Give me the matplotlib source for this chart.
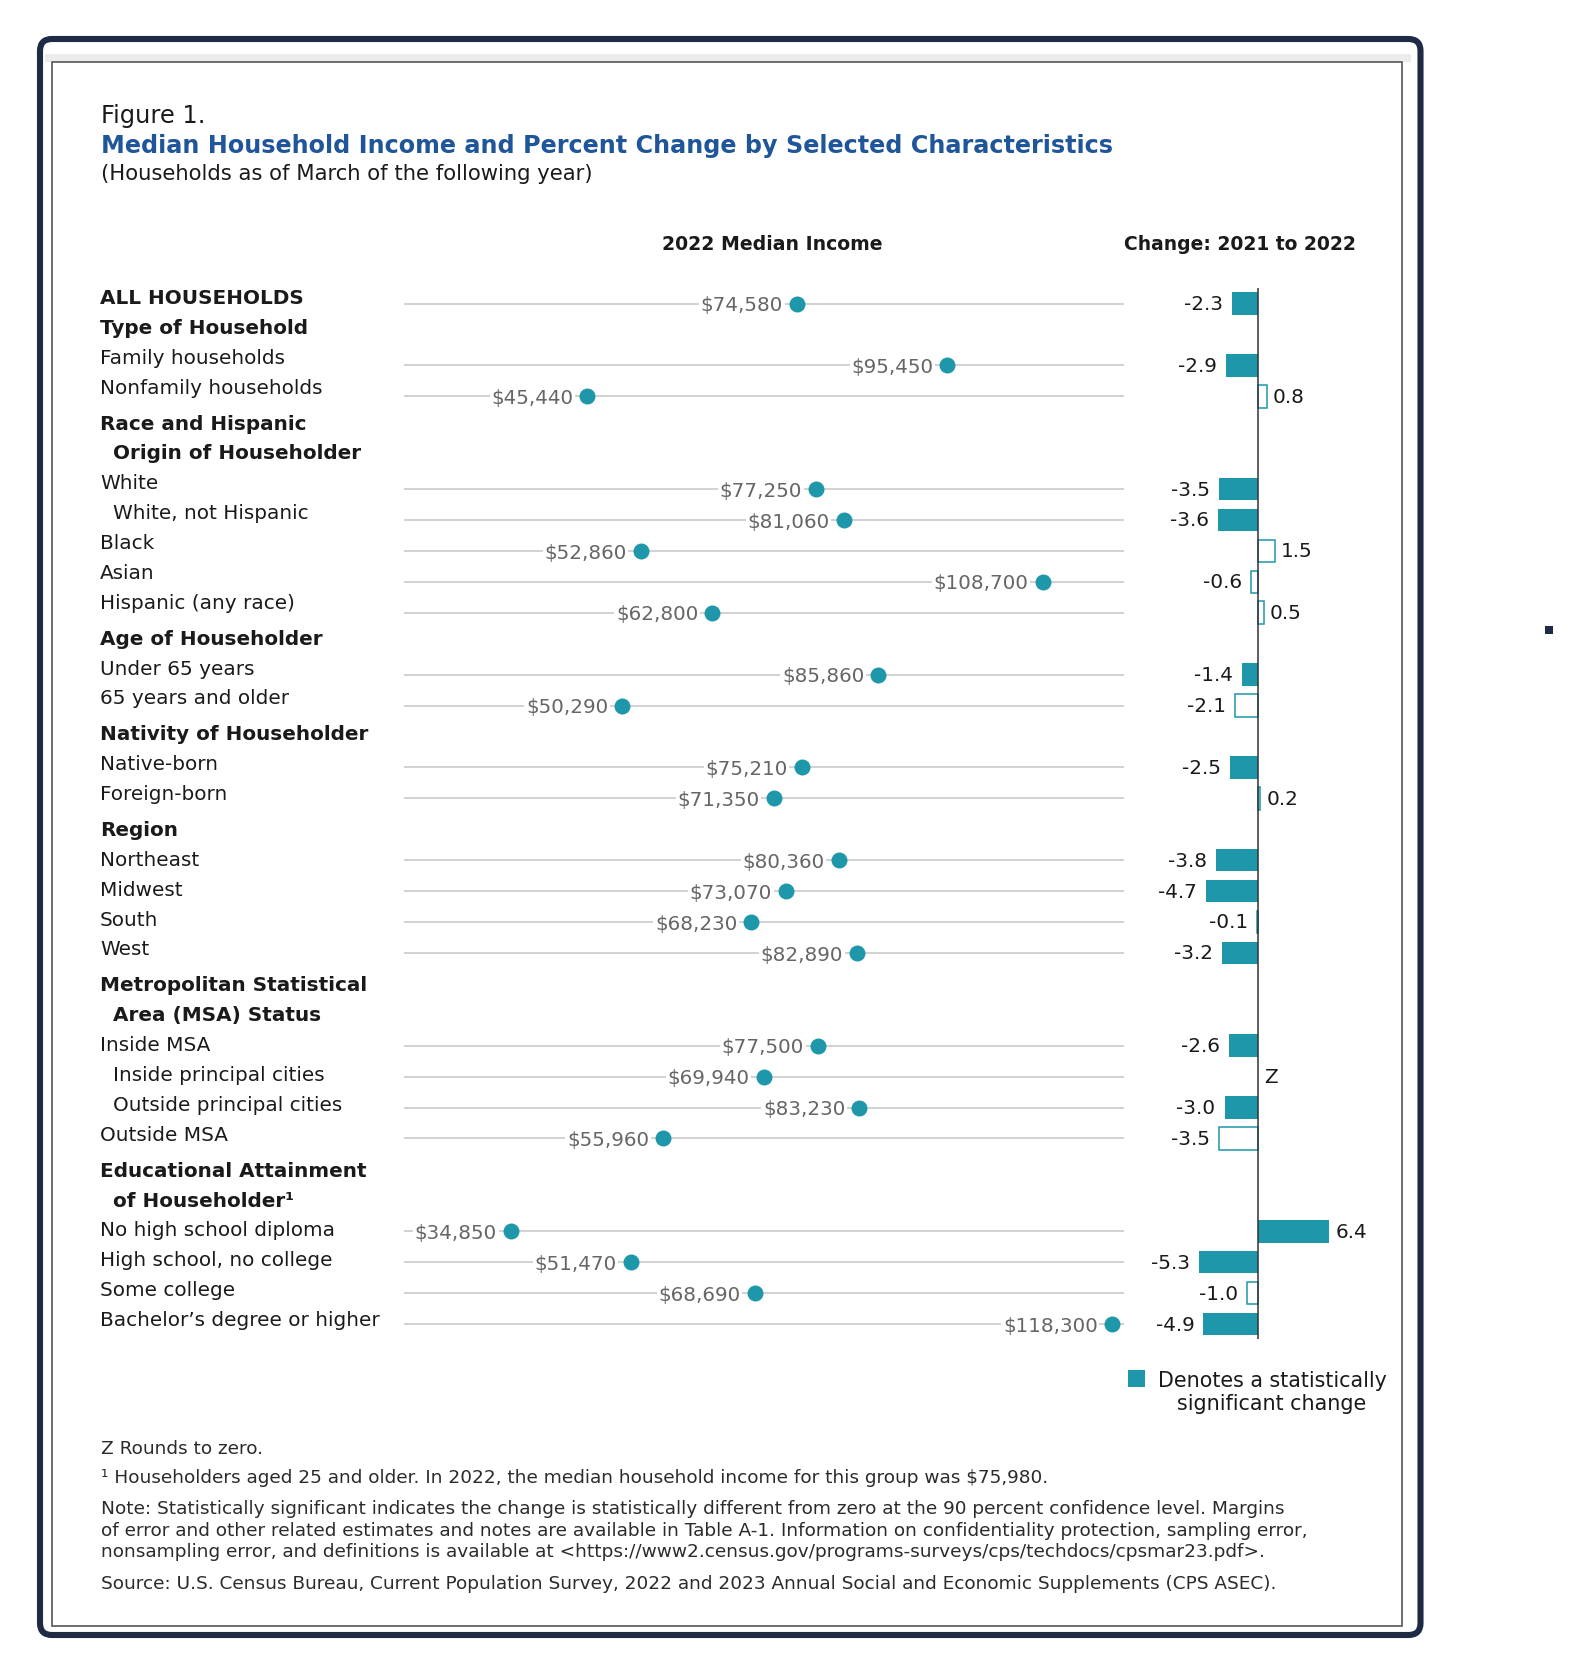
import matplotlib.pyplot as plt
from matplotlib.patches import FancyBboxPatch, Rectangle

# row labels on the left, with their role (total / section head / item)
row_labels = [
    "ALL HOUSEHOLDS", "Type of Household", "Family households", "Nonfamily households",
    "Race and Hispanic", "Origin of Householder", "White", "White, not Hispanic",
    "Black", "Asian", "Hispanic (any race)",
    "Age of Householder", "Under 65 years", "65 years and older",
    "Nativity of Householder", "Native-born", "Foreign-born",
    "Region", "Northeast", "Midwest", "South", "West",
    "Metropolitan Statistical", "Area (MSA) Status", "Inside MSA",
    "Inside principal cities", "Outside principal cities", "Outside MSA",
    "Educational Attainment", "of Householder\u00b9", "No high school diploma",
    "High school, no college", "Some college", "Bachelor\u2019s degree or higher",
]
row_kinds = [
    "total", "head", "item", "item",
    "head", "head2", "item", "sub",
    "item", "item", "item",
    "head", "item", "item",
    "head", "item", "item",
    "head", "item", "item", "item", "item",
    "head", "head2", "item",
    "sub", "sub", "item",
    "head", "head2", "item",
    "item", "item", "item",
]

# one value per data row (total, item, sub), top to bottom
income = [74580, 95450, 45440, 77250, 81060, 52860, 108700, 62800,
          85860, 50290, 75210, 71350, 80360, 73070, 68230, 82890,
          77500, 69940, 83230, 55960, 34850, 51470, 68690, 118300]
change = [-2.3, -2.9, 0.8, -3.5, -3.6, 1.5, -0.6, 0.5,
          -1.4, -2.1, -2.5, 0.2, -3.8, -4.7, -0.1, -3.2,
          -2.6, None, -3.0, -3.5, 6.4, -5.3, -1.0, -4.9]
significant = [1, 1, 0, 1, 1, 0, 0, 0,
               1, 0, 1, 0, 1, 1, 0, 1,
               1, 0, 1, 0, 1, 1, 0, 1]

footnotes = [
    "Z Rounds to zero.",
    "\u00b9 Householders aged 25 and older. In 2022, the median household income for this group was $75,980.",
    "Note: Statistically significant indicates the change is statistically different from zero at the 90 percent confidence level. Margins",
    "of error and other related estimates and notes are available in Table A-1. Information on confidentiality protection, sampling error,",
    "nonsampling error, and definitions is available at <https://www2.census.gov/programs-surveys/cps/techdocs/cpsmar23.pdf>.",
    "Source: U.S. Census Bureau, Current Population Survey, 2022 and 2023 Annual Social and Economic Supplements (CPS ASEC).",
]

TEAL = "#1d97a9"
NAVY = "#1f2b44"
BLUE = "#1f5699"
INK = "#1a1a1a"

W, H = 1590, 1681
fig = plt.figure(figsize=(W / 100, H / 100), dpi=100)
renderer = fig.canvas.get_renderer()

ov = fig.add_axes([0, 0, 1, 1])
ov.set_xlim(0, W)
ov.set_ylim(H, 0)
ov.axis("off")


def px_axes(x0, y0, x1, y1):
    ax = fig.add_axes([x0 / W, 1 - y1 / H, (x1 - x0) / W, (y1 - y0) / H])
    ax.set_facecolor("none")
    return ax


def fit(t, width_px):
    w = t.get_window_extent(renderer=renderer).width
    t.set_fontsize(t.get_fontsize() * width_px / w)
    return t.get_fontsize()


# frame
ov.add_patch(FancyBboxPatch((40, 40), 1380.5, 1596, boxstyle="round,pad=0,rounding_size=12",
                            fc="none", ec=NAVY, lw=4.4))
ov.add_patch(Rectangle((45, 55), 1366, 8, fc="#ececec", ec="none"))
ov.add_patch(Rectangle((52, 63), 1350, 1564, fc="white", ec="#555555", lw=1.2))
ov.add_patch(Rectangle((1545, 627), 8, 8, fc=NAVY, ec="none"))

# titles
fit(ov.text(101, 113, "Figure 1.", fontsize=17, color=INK, va="center_baseline"), 104)
fit(ov.text(101, 144, "Median Household Income and Percent Change by Selected Characteristics",
            fontsize=18, color=BLUE, fontweight="bold", va="center_baseline"), 1014)
fit(ov.text(101, 172, "(Households as of March of the following year)", fontsize=14,
            color=INK, va="center_baseline"), 494)
fit(ov.text(772, 243, "2022 Median Income", fontsize=14, fontweight="bold", color=INK,
            ha="center", va="center_baseline"), 221)
fit(ov.text(1240, 243, "Change: 2021 to 2022", fontsize=14, fontweight="bold", color=INK,
            ha="center", va="center_baseline"), 233)

# left labels
data_slots = []
gap = 0
prev = None
for i, (lab, kind) in enumerate(zip(row_labels, row_kinds)):
    if kind == "head" and prev in ("item", "sub"):
        gap += 6
    if kind in ("total", "item", "sub"):
        data_slots.append(i)
    bold = kind in ("total", "head", "head2")
    x = 113 if kind in ("head2", "sub") else 100
    ov.text(x, 304 + 29.88 * i + gap, lab, fontsize=14.4, color=INK,
            fontweight="bold" if bold else "normal", va="baseline")
    prev = kind

n = len(row_labels)
row_top, row_step = 304.5, 30.925
y0 = row_top - row_step / 2
y1 = row_top + (n - 0.5) * row_step

# median income dots
ax = px_axes(404, y0, 1124, y1)
ax.set_xlim(20000, 120000)
ax.set_ylim(n - 0.5, -0.5)
ax.axis("off")
ax.hlines(data_slots, 20000, 120000, color="#c9c9c9", lw=1.2, zorder=1)
ax.plot(income, data_slots, "o", ms=11.5, color=TEAL, mec="none", zorder=4)
for v, s in zip(income, data_slots):
    ax.annotate(f"${v:,}", (v, s), xytext=(-10, -0.8), textcoords="offset points",
                ha="right", va="center", fontsize=14.3, color="#666666", zorder=3,
                bbox=dict(boxstyle="square,pad=0.08", fc="white", ec="none"))

# percent change bars
unit = 11.15
bx = px_axes(1258 - 7 * unit, y0, 1258 + 7 * unit, y1)
bx.set_xlim(-7, 7)
bx.set_ylim(n - 0.5, -0.5)
bx.axis("off")
for c, sig, s in zip(change, significant, data_slots):
    if c is None:
        bx.annotate("Z", (0, s), xytext=(4.3, 0), textcoords="offset points",
                    ha="left", va="center", fontsize=14.4, color=INK)
        continue
    if sig:
        bx.barh(s, c, height=0.73, color=TEAL, lw=0)
    else:
        bx.barh(s, c, height=0.73, color="white", ec=TEAL, lw=1.1)
    off = -6.5 if c < 0 else 4.3
    bx.annotate(f"{c:.1f}", (c, s), xytext=(off, 0), textcoords="offset points",
                ha="right" if c < 0 else "left", va="center", fontsize=14.4, color=INK)
bx.axvline(0, color="#333333", lw=1.1, zorder=5)

# legend
ov.add_patch(Rectangle((1128, 1371), 17, 17, fc=TEAL, ec="none"))
fs = fit(ov.text(1272, 1387, "Denotes a statistically", fontsize=14, color=INK,
                 ha="center", va="baseline"), 230)
ov.text(1272, 1410, "significant change", fontsize=fs, color=INK, ha="center", va="baseline")

# footnotes
foot_y = [1446.6, 1476.5, 1506.6, 1529.1, 1550.5, 1581.6]
ftexts = [ov.text(101, y, t, fontsize=12, color="#2b2b2b", va="center_baseline")
          for t, y in zip(footnotes, foot_y)]
fs = fit(ftexts[3], 1203)
for t in ftexts:
    t.set_fontsize(fs)

fig.savefig("out.png", dpi=100)
